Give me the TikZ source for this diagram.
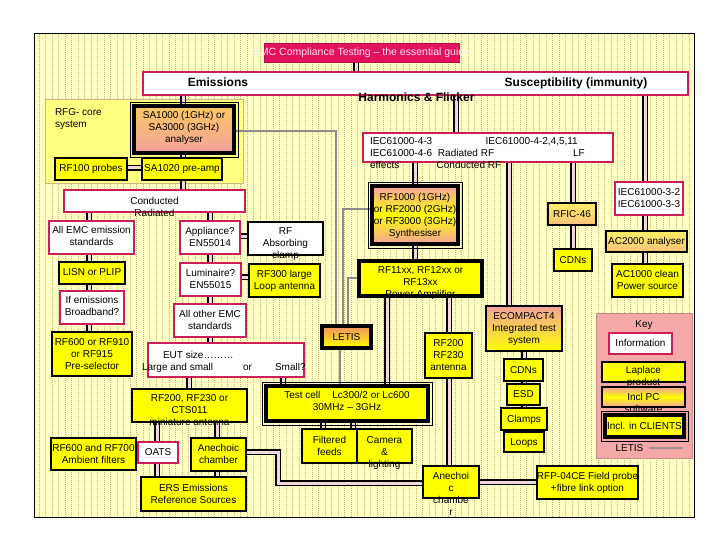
\documentclass[tikz,border=0pt]{standalone}
\usepackage{fontspec}
\setmainfont{Liberation Sans}
\usetikzlibrary{calc}
\definecolor{bgy}{HTML}{FFFFC4}
\definecolor{gridc}{HTML}{C8B47E}
\definecolor{panely}{HTML}{FFFF80}
\definecolor{panelb}{HTML}{D0B48C}
\definecolor{boxy}{HTML}{FFFF00}
\definecolor{crim}{HTML}{CC1F5A}
\definecolor{titlef}{HTML}{E3125C}
\definecolor{titlet}{HTML}{FFE4EC}
\definecolor{salm}{HTML}{F4A29C}
\definecolor{orng}{HTML}{FAC860}
\definecolor{ltorng}{HTML}{F7C27A}
\definecolor{ltyel}{HTML}{FFEE66}
\definecolor{letop}{HTML}{F29060}
\definecolor{keyf}{HTML}{F5A8A8}
\definecolor{keyb}{HTML}{C08C8C}
\definecolor{dblin}{HTML}{F2D8D8}
\definecolor{grayl}{HTML}{8C8C8C}
\definecolor{keygl}{HTML}{A89098}
\pgfdeclarelayer{back}\pgfdeclarelayer{conn}
\pgfsetlayers{back,conn,main}
\newcommand{\TxC}[2][0]{\makebox[0pt]{\smash{\raisebox{\dimexpr-3.2pt-(#1pt)\relax}{\begin{tabular}{@{}c@{}}#2\end{tabular}}}}}
\newcommand{\TxL}[3]{\makebox[0pt][l]{\hspace*{#1pt}\smash{\raisebox{\dimexpr-3.2pt-(#2pt)\relax}{\begin{tabular}{@{}l@{}}#3\end{tabular}}}}}
\newcommand{\BX}[7]{\pgfmathsetmacro\bxw{#5-#3}\pgfmathsetmacro\bxh{#6-#4}\pgfmathsetmacro\bxx{(#3+#5)/2}\pgfmathsetmacro\bxy{(#4+#6)/2}\node[#1, minimum width=\bxw pt, minimum height=\bxh pt] (#2) at (\bxx,\bxy) {#7};}
\tikzset{
  every node/.style={inner sep=0pt, outer sep=0pt, font=\fontsize{10}{12}\selectfont},
  info/.style={draw=crim, line width=2.2pt, fill=white},
  wbox/.style={draw=black, line width=2.2pt, fill=white},
  prod/.style={draw=black, line width=2.2pt, fill=boxy},
  prodk/.style={draw=black, line width=4.5pt, fill=boxy},
  gradA/.style={draw=black, line width=4.5pt, top color=orng, bottom color=salm},
  gradB/.style={draw=black, line width=4.5pt, top color=salm, bottom color=salm, middle color=boxy},
  gradBt/.style={draw=black, line width=2.2pt, top color=salm, bottom color=salm, middle color=boxy},
  gradC/.style={draw=black, line width=2.2pt, top color=salm, bottom color=boxy},
  gradD/.style={draw=black, line width=2.2pt, top color=ltyel, bottom color=ltorng},
  letisbox/.style={draw=black, line width=4.5pt, top color=letop, bottom color=boxy},
  panel/.style={draw=panelb, line width=0.8pt, fill=panely},
  keypanel/.style={draw=keyb, line width=0.8pt, fill=keyf},
  titlebox/.style={fill=titlef, draw=titlef!80!black, line width=0.5pt, text=titlet, font=\fontsize{10.5}{12}\selectfont},
  bold/.style={font=\bfseries\fontsize{12}{14}\selectfont},
  dbl/.style={draw=black, line width=1.3pt, double=dblin, double distance=3pt},
  gl/.style={draw=grayl, line width=1.8pt},
  thinout/.style={draw=black, line width=0.6pt}
}
\begin{document}
\begin{tikzpicture}[x=1pt,y=-1pt]
\useasboundingbox (0,0) rectangle (720,540);
\begin{pgfonlayer}{back}
\fill[white] (0,0) rectangle (720,540);
\fill[bgy] (34,34) rectangle (694,517);
\draw[gridc, line width=0.7pt, dash pattern=on 0.9pt off 1.1pt, step=6.5] (34,34) grid (694,517);
\draw[black, line width=1pt] (34,34) rectangle (694,517);
\BX{panel}{rfg}{45}{99}{243}{183}{\TxL{-89}{-23}{RFG- core\\system}}
\BX{keypanel}{key}{596}{313}{692}{458}{\TxC[-61.5]{Key}}
\end{pgfonlayer}
% title and header bar
\BX{titlebox}{title}{264}{43}{459}{62}{\TxC{EMC Compliance Testing – the essential guide}}
\BX{info}{bar}{143}{72}{688}{95}{}
\node[bold] (emt) at (218,83.5) {\TxC{Emissions}};
\node[bold] (sust) at (576,83.5) {\TxC{Susceptibility (immunity)}};
\node[bold] (harm) at (416.5,98.5) {\TxC{Harmonics \& Flicker}};
% emissions side
\BX{gradA}{sa}{134}{106}{234}{153}{\TxC[-2.5]{SA1000 (1GHz) or\\SA3000 (3GHz)\\analyser}}
\BX{prod}{rf100}{55}{158}{127}{180}{\TxC[-1]{RF100 probes}}
\BX{prod}{sa1020}{142}{158}{222}{180}{\TxC[-1]{SA1020 pre-amp}}
\BX{info}{cond}{64}{190}{245}{212}{\TxC[6.5]{Conducted\\Radiated}}
\BX{info}{allemc}{49}{221}{134}{254}{\TxC[-1]{All EMC emission\\standards}}
\BX{prod}{lisn}{59}{262}{125}{284}{\TxC[-1]{LISN or PLIP}}
\BX{info}{bband}{60}{291}{124}{324}{\TxC[-1.5]{If emissions\\Broadband?}}
\BX{prod}{presel}{52}{332}{132}{376}{\TxC{RF600 or RF910\\or RF915\\Pre-selector}}
\BX{info}{appl}{180}{221}{240}{254}{\TxC{Appliance?\\EN55014}}
\BX{wbox}{clamp}{248}{222}{323}{255}{\TxC[4.8]{RF\\Absorbing\\clamp}}
\BX{info}{lum}{180}{263}{241}{296}{\TxC{Luminaire?\\EN55015}}
\BX{prod}{rf300}{249}{264}{320}{297}{\TxC{RF300 large\\Loop antenna}}
\BX{info}{other}{174}{304}{246}{337}{\TxC{All other EMC\\standards}}
\BX{info}{eut}{148}{343}{304}{377}{\TxL{-84}{1}{\hspace*{21pt}EUT size………\\Large and small\hspace{30pt}or\hspace{23pt}Small?}}
\BX{prod}{cts}{132}{389}{247}{422}{\TxC[5.2]{RF200, RF230 or\\CTS011\\miniature antenna}}
\BX{prod}{filt}{51}{438}{136}{470}{\TxC{RF600 and RF700\\Ambient filters}}
\BX{info}{oats}{138}{442}{178}{463}{\TxC{OATS}}
\BX{prod}{anec}{191}{438}{246}{471}{\TxC{Anechoic\\chamber}}
\BX{prod}{ers}{141}{477}{246}{511}{\TxC{ERS Emissions\\Reference Sources}}
% test cell and amplifier chain
\BX{prodk}{tcell}{266}{386}{428}{421}{\TxC[-2]{Test cell\hspace{12pt}Lc300/2 or Lc600\\30MHz – 3GHz}}
\BX{prod}{feeds}{302}{429}{357}{463}{\TxC{Filtered\\feeds}}
\BX{prod}{cam}{357}{429}{412}{463}{\TxC[6]{Camera\\\&\\lighting}}
\BX{prod}{anec2}{423}{466}{479}{498}{\TxC[12.7]{Anechoi\\c\\chambe\\r}}
\BX{prod}{rfp}{537}{466}{638}{499}{\TxC{RFP-04CE Field probe\\+fibre link option}}
\BX{prod}{ant}{425}{333}{472}{378}{\TxC{RF200\\RF230\\antenna}}
\BX{prodk}{amp}{359}{261}{482}{296}{\TxC[3.8]{RF11xx, RF12xx or\\RF13xx\\Power Amplifier}}
\BX{gradB}{synth}{372}{186}{458}{244}{\TxC{RF1000 (1GHz)\\or RF2000 (2GHz)\\or RF3000 (3GHz)\\Synthesiser}}
\BX{letisbox}{letis}{322}{326}{371}{348}{\TxC{LETIS}}
% susceptibility side
\BX{info}{iec}{363}{133}{613}{162}{\TxL{-118}{5.8}{\makebox[115.7pt][l]{IEC61000-4-3}IEC61000-4-2,4,5,11\\\makebox[68pt][l]{IEC61000-4-6}\makebox[135pt][l]{Radiated RF}LF\\\makebox[66.7pt][l]{effects}Conducted RF}}
\BX{gradD}{rfic}{548}{203}{596}{225}{\TxC{RFIC-46}}
\BX{prod}{cdn1}{554}{249}{592}{271}{\TxC{CDNs}}
\BX{info}{iec3}{615}{182}{683}{215}{\TxC{IEC61000-3-2\\IEC61000-3-3}}
\BX{gradD}{ac2000}{606}{231}{687}{252}{\TxC{AC2000 analyser}}
\BX{prod}{ac1000}{612}{264}{683}{297}{\TxC{AC1000 clean\\Power source}}
\BX{gradC}{ecomp}{486}{306}{562}{351}{\TxC{ECOMPACT4\\Integrated test\\system}}
\BX{prod}{cdn2}{504}{359}{543}{381}{\TxC{CDNs}}
\BX{prod}{esd}{507}{384}{540}{405}{\TxC{ESD}}
\BX{prod}{clmp}{501}{408}{547}{430}{\TxC{Clamps}}
\BX{prod}{loops}{504}{432}{544}{452}{\TxC{Loops}}
% key
\BX{info}{kinfo}{609}{333}{672}{354}{\TxC{Information}}
\BX{prod}{klap}{602}{362}{685}{382}{\TxC[4.5]{Laplace\\product}}
\BX{gradBt}{kpc}{602}{387}{685}{407}{\TxC[6.5]{Incl PC\\software}}
\BX{prodk}{kcl}{605}{415}{684}{437}{\TxC{Incl. in CLIENTS}}
\node (kletis) at (629.5,448) {LETIS};
\coordinate (kle) at (683,448);
% outer thin frames
\foreach \n in {sa,synth,tcell,kcl}
  \draw[thinout] ([shift={(-4,-4)}]\n.north west) rectangle ([shift={(4,4)}]\n.south east);
\begin{pgfonlayer}{conn}
\draw[dbl] (356,0 |- title.south) -- (356,0 |- bar.north);
\draw[dbl] (183,0 |- bar.south) -- (183,0 |- cond.north);
\draw[dbl] (rf100.east |- 0,168) -- (sa1020.west |- 0,168);
\draw[dbl] (89,0 |- cond.south) -- (89,0 |- presel.north);
\draw[dbl] (210,0 |- cond.south) -- (210,0 |- eut.north);
\draw[dbl] (appl.east |- 0,236) -- (clamp.west |- 0,236);
\draw[dbl] (lum.east |- 0,277) -- (rf300.west |- 0,277);
\draw[dbl] (189,0 |- eut.south) -- (189,0 |- cts.north);
\draw[dbl] (283,0 |- eut.south) -- (283,0 |- tcell.north);
\draw[dbl] (157,0 |- cts.south) -- (157,0 |- ers.north);
\draw[dbl] (217,0 |- cts.south) -- (217,0 |- ers.north);
\draw[dbl] (filt.east |- 0,452) -- (oats.west |- 0,452);
\draw[dbl] (anec.east |- 0,452) -- (278,452) -- (278,483) -- (anec2.west |- 0,483);
\draw[dbl] (323,0 |- tcell.south) -- (323,0 |- feeds.north);
\draw[dbl] (353,0 |- tcell.south) -- (353,0 |- cam.north);
\draw[dbl] (415,0 |- iec.south) -- (415,0 |- amp.north);
\draw[dbl] (387,0 |- amp.south) -- (387,0 |- tcell.north);
\draw[dbl] (449,0 |- amp.south) -- (449,0 |- anec2.north);
\draw[dbl] (anec2.east |- 0,482) -- (rfp.west |- 0,482);
\draw[dbl] (456,0 |- bar.south) -- (456,0 |- iec.north);
\draw[dbl] (509,0 |- iec.south) -- (509,0 |- ecomp.north);
\draw[dbl] (573,0 |- iec.south) -- (573,0 |- cdn1.north);
\draw[dbl] (645,0 |- bar.south) -- (645,0 |- ac1000.north);
\draw[dbl] (524,0 |- ecomp.south) -- (524,0 |- loops.north);
\draw[gl] (sa.east |- 0,131) -- (336,131) -- (336,0 |- letis.north);
\draw[gl] (synth.west |- 0,209) -- (343,209) -- (343,0 |- letis.north);
\draw[gl] (amp.west |- 0,278) -- (348,278) -- (348,0 |- letis.north);
\draw[gl] (340,0 |- letis.south) -- (340,0 |- tcell.north);
\draw[draw=keygl, line width=1.8pt] ([xshift=6pt]kletis.east) -- (kle);
\end{pgfonlayer}
\end{tikzpicture}
\end{document}
